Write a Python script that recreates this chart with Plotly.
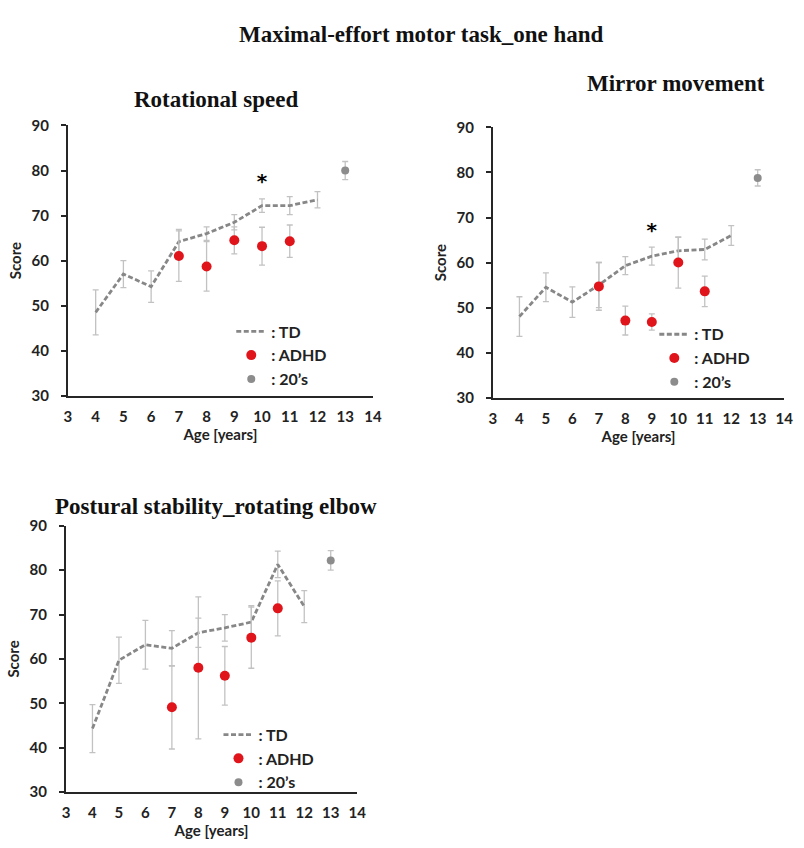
import plotly.graph_objects as go

# ---------------- data ----------------
td_ages = [4, 5, 6, 7, 8, 9, 10, 11, 12]
adhd_ages = [7, 8, 9, 10, 11]
adult_age = [13]

rot_td = [48.5, 57.0, 54.2, 64.2, 66.0, 68.5, 72.2, 72.2, 73.5]
rot_td_err = [5.0, 3.0, 3.5, 2.7, 1.5, 1.7, 1.5, 2.0, 1.8]
rot_adhd = [61.0, 58.7, 64.5, 63.2, 64.3]
rot_adhd_err = [5.6, 5.5, 3.0, 4.2, 3.6]
rot_adult = [80.0]
rot_adult_err = [2.0]
rot_sig_age = [10]
rot_sig_y = [77.3]

mir_td = [48.0, 54.5, 51.2, 55.0, 59.3, 61.4, 62.6, 62.9, 66.0]
mir_td_err = [4.4, 3.2, 3.4, 5.0, 2.0, 2.0, 3.0, 2.3, 2.2]
mir_adhd = [54.7, 47.1, 46.8, 60.0, 53.6]
mir_adhd_err = [5.3, 3.2, 1.8, 5.7, 3.4]
mir_adult = [78.8]
mir_adult_err = [1.8]
mir_sig_age = [9]
mir_sig_y = [66.7]

pos_td = [44.3, 59.7, 63.2, 62.4, 65.9, 67.0, 68.3, 81.3, 71.8]
pos_td_err = [5.4, 5.2, 5.5, 4.0, 3.3, 3.0, 3.7, 3.0, 3.6]
pos_adhd = [49.1, 58.0, 56.2, 64.8, 71.4]
pos_adhd_err = [9.4, 16.0, 6.6, 6.9, 6.2]
pos_adult = [82.2]
pos_adult_err = [2.2]

x_ticks = list(range(3, 15))
y_ticks = list(range(30, 91, 10))

main_title = "Maximal-effort motor task_one hand"
panel_titles = ["Rotational speed", "Mirror movement", "Postural stability_rotating elbow"]

# ---------------- style ----------------
W, H = 804, 848
TD_COLOR = "#878787"
ERR_COLOR = "#c2c2c2"
ADHD_COLOR = "#e0141b"
ADULT_COLOR = "#8c8c8c"
AXIS_COLOR = "#262626"
SANS = "Lato"
SERIF = "Liberation Serif"

fig = go.Figure()

panels = [
    dict(td=rot_td, tde=rot_td_err, ad=rot_adhd, ade=rot_adhd_err, au=rot_adult, aue=rot_adult_err,
         sig=(rot_sig_age, rot_sig_y), ax="", legend="legend"),
    dict(td=mir_td, tde=mir_td_err, ad=mir_adhd, ade=mir_adhd_err, au=mir_adult, aue=mir_adult_err,
         sig=(mir_sig_age, mir_sig_y), ax="2", legend="legend2"),
    dict(td=pos_td, tde=pos_td_err, ad=pos_adhd, ade=pos_adhd_err, au=pos_adult, aue=pos_adult_err,
         sig=None, ax="3", legend="legend3"),
]

for p in panels:
    xa = "x" + p["ax"]
    ya = "y" + p["ax"]
    fig.add_trace(go.Scatter(
        x=td_ages, y=p["td"], mode="lines", name=": TD",
        line=dict(color=TD_COLOR, width=2.8, dash="5px,2.5px"),
        error_y=dict(type="data", array=p["tde"], color=ERR_COLOR, thickness=1.3, width=3),
        xaxis=xa, yaxis=ya, legend=p["legend"], cliponaxis=False))
    fig.add_trace(go.Scatter(
        x=adhd_ages, y=p["ad"], mode="markers", name=": ADHD",
        marker=dict(color=ADHD_COLOR, size=10),
        error_y=dict(type="data", array=p["ade"], color=ERR_COLOR, thickness=1.3, width=3),
        xaxis=xa, yaxis=ya, legend=p["legend"], cliponaxis=False))
    fig.add_trace(go.Scatter(
        x=adult_age, y=p["au"], mode="markers", name=": 20\u2019s",
        marker=dict(color=ADULT_COLOR, size=8),
        error_y=dict(type="data", array=p["aue"], color=ERR_COLOR, thickness=1.3, width=3),
        xaxis=xa, yaxis=ya, legend=p["legend"], cliponaxis=False))
    if p["sig"] is not None:
        fig.add_trace(go.Scatter(
            x=p["sig"][0], y=p["sig"][1], mode="text", text=["*"],
            textfont=dict(family="DejaVu Sans", size=20, color="#000000", weight="bold"),
            xaxis=xa, yaxis=ya, showlegend=False, cliponaxis=False))

# panel geometry in pixels: (x_left, x_right, y_top, y_bottom)
geo = [(65, 375, 118, 394), (497, 793, 120, 396), (63, 359, 527, 799)]

TICKFONT = dict(family=SANS, size=15, color="#222", weight="bold")


def xax(g):
    return dict(domain=[g[0] / W, g[1] / W], range=[3, 14], tickvals=x_ticks,
                showline=True, linecolor=AXIS_COLOR, linewidth=2, ticks="",
                showgrid=False, zeroline=False,
                tickfont=TICKFONT, ticklabelstandoff=6,
                title=dict(text="Age [years]", font=TICKFONT, standoff=2))


def yax(g, anchor):
    return dict(domain=[1 - g[3] / H, 1 - g[2] / H], range=[30, 90], tickvals=y_ticks,
                showline=True, linecolor=AXIS_COLOR, linewidth=2, ticks="outside",
                ticklen=5, tickwidth=2, tickcolor=AXIS_COLOR,
                showgrid=False, zeroline=False, anchor=anchor,
                tickfont=TICKFONT, ticklabelstandoff=9,
                title=dict(text="Score", font=TICKFONT, standoff=6))


fig.update_layout(
    width=W, height=H, margin=dict(l=0, r=0, t=0, b=0),
    paper_bgcolor="white", plot_bgcolor="white",
    xaxis=dict(xax(geo[0]), anchor="y"), yaxis=yax(geo[0], "x"),
    xaxis2=dict(xax(geo[1]), anchor="y2"), yaxis2=yax(geo[1], "x2"),
    xaxis3=dict(xax(geo[2]), anchor="y3"), yaxis3=yax(geo[2], "x3"),
)

leg_common = dict(font=dict(family=SANS, size=16, color="#222", weight="bold"),
                  bgcolor="rgba(0,0,0,0)", xanchor="left", yanchor="top",
                  tracegroupgap=0, itemwidth=30)
fig.update_layout(
    legend=dict(leg_common, x=231 / W, y=1 - 311 / H),
    legend2=dict(leg_common, x=661 / W, y=1 - 314 / H),
    legend3=dict(leg_common, x=218 / W, y=1 - 723 / H),
)

title_font = dict(family=SERIF, size=23, color="#111", weight="bold")
fig.add_annotation(text=main_title, x=424 / W, y=1 - 25 / H, xref="paper", yref="paper",
                   showarrow=False, font=title_font, xanchor="center", yanchor="middle")
fig.add_annotation(text=panel_titles[0], x=215 / W, y=1 - 91 / H, xref="paper", yref="paper",
                   showarrow=False, font=title_font, xanchor="center", yanchor="middle")
fig.add_annotation(text=panel_titles[1], x=683 / W, y=1 - 75 / H, xref="paper", yref="paper",
                   showarrow=False, font=title_font, xanchor="center", yanchor="middle")
fig.add_annotation(text=panel_titles[2], x=50 / W, y=1 - 507 / H, xref="paper", yref="paper",
                   showarrow=False, font=title_font, xanchor="left", yanchor="middle")

fig.write_html("out.html", config={"displayModeBar": False},
               post_script="document.body.style.margin='0';")
